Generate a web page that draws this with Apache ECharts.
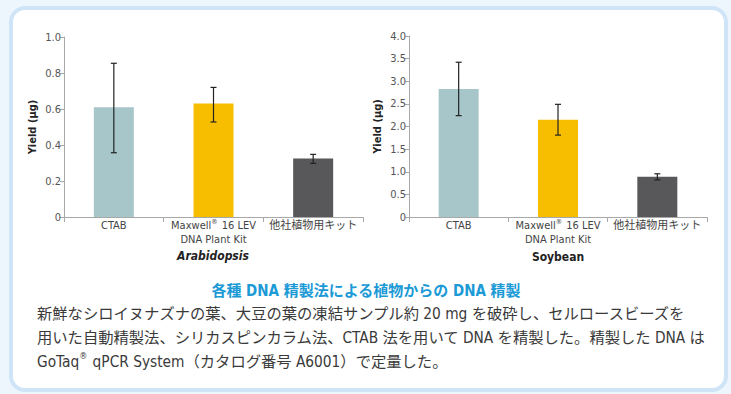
<!DOCTYPE html>
<html>
<head>
<meta charset="utf-8">
<script src="https://cdn.jsdelivr.net/npm/echarts@6/dist/echarts.min.js"></script>
<style>
  html, body { margin: 0; padding: 0; background: #eef6fd; }
  #chart { width: 731px; height: 394px; }
</style>
</head>
<body>
<div id="chart"></div>
<script>
// Categories shared by both panels
const categories = ['CTAB', 'Maxwell® 16 LEV\nDNA Plant Kit', '他社植物用キット'];
const barColors = ['#a6c6ca', '#f7be00', '#58585a'];

// Arabidopsis yield (µg) with error bar bounds
const arabValues = [0.61, 0.63, 0.325];
const arabErrLow = [0.357, 0.528, 0.298];
const arabErrHigh = [0.854, 0.72, 0.348];

// Soybean yield (µg) with error bar bounds
const soyValues = [2.83, 2.15, 0.89];
const soyErrLow = [2.24, 1.81, 0.82];
const soyErrHigh = [3.42, 2.49, 0.955];

const headline = '各種 DNA 精製法による植物からの DNA 精製';
const bodyLines = [
  '新鮮なシロイヌナズナの葉、大豆の葉の凍結サンプル約 20 mg を破砕し、セルロースビーズを',
  '用いた自動精製法、シリカスピンカラム法、CTAB 法を用いて DNA を精製した。精製した DNA は',
  'GoTaq® qPCR System（カタログ番号 A6001）で定量した。'
];

const narrow = '"Liberation Sans Narrow", "DejaVu Sans Condensed", "Noto Sans CJK JP", sans-serif';

// Wrap each line in rich-text tokens, turning ® into a small raised mark
function toRich(text, base) {
  return text.split('\n').map(line =>
    line.split('®').map(part => part ? '{' + base + '|' + part + '}' : '').join('{sup|®}')
  ).join('\n');
}

function xAxisCfg(idx) {
  return {
    type: 'category', gridIndex: idx, data: categories,
    axisLine: { lineStyle: { color: '#a8a8a8', width: 1 } },
    axisTick: { show: true, length: 5, lineStyle: { color: '#a8a8a8' } },
    axisLabel: {
      interval: 0, color: '#444', fontSize: 11, fontFamily: narrow, lineHeight: 14, margin: 1,
      formatter: v => toRich(v, 'n'),
      rich: {
        n: { color: '#444', fontSize: 11, fontFamily: narrow, lineHeight: 14 },
        sup: { color: '#444', fontSize: 7, fontFamily: narrow, lineHeight: 14, verticalAlign: 'top', padding: [0, 1, 4, 0] }
      }
    }
  };
}
function yAxisCfg(idx, max, interval) {
  return {
    type: 'value', gridIndex: idx, min: 0, max: max, interval: interval,
    name: 'Yield (µg)', nameLocation: 'middle', nameGap: 26,
    nameTextStyle: { color: '#222', fontWeight: 'bold', fontSize: 11, fontFamily: narrow },
    axisLine: { show: true, lineStyle: { color: '#a8a8a8' } },
    axisTick: { show: true, length: 4, lineStyle: { color: '#a8a8a8' } },
    splitLine: { show: false },
    axisLabel: {
      color: '#555', fontSize: 11, fontFamily: narrow, margin: 3,
      formatter: v => v === 0 ? '0' : v.toFixed(1)
    }
  };
}
function barSeries(idx, values) {
  return {
    type: 'bar', xAxisIndex: idx, yAxisIndex: idx, barWidth: 40,
    data: values.map((v, i) => ({ value: v, itemStyle: { color: barColors[i] } }))
  };
}
function errSeries(idx, lows, highs) {
  return {
    type: 'custom', xAxisIndex: idx, yAxisIndex: idx, z: 10,
    data: lows.map((lo, i) => [i, lo, highs[i]]),
    renderItem: function (params, api) {
      const lo = api.coord([api.value(0), api.value(1)]);
      const hi = api.coord([api.value(0), api.value(2)]);
      const cap = 3;
      const style = { stroke: '#222', lineWidth: 1.2 };
      return {
        type: 'group',
        children: [
          { type: 'line', shape: { x1: lo[0], y1: lo[1], x2: hi[0], y2: hi[1] }, style: style },
          { type: 'line', shape: { x1: hi[0] - cap, y1: hi[1], x2: hi[0] + cap, y2: hi[1] }, style: style },
          { type: 'line', shape: { x1: lo[0] - cap, y1: lo[1], x2: lo[0] + cap, y2: lo[1] }, style: style }
        ]
      };
    }
  };
}

const bodyRich = {
  b: { fontFamily: narrow, fontSize: 15.3, fill: '#3a3a3a', lineHeight: 22 },
  sup: { fontFamily: narrow, fontSize: 9, fill: '#3a3a3a', lineHeight: 22, verticalAlign: 'top', padding: [0, 1, 6, 0] }
};

const chart = echarts.init(document.getElementById('chart'), null, { renderer: 'svg' });
chart.setOption({
  backgroundColor: '#eef6fd',
  animation: false,
  grid: [
    { left: 64, top: 37, width: 299, height: 180 },
    { left: 409, top: 36, width: 298, height: 181 }
  ],
  xAxis: [xAxisCfg(0), xAxisCfg(1)],
  yAxis: [yAxisCfg(0, 1.0, 0.2), yAxisCfg(1, 4.0, 0.5)],
  series: [
    barSeries(0, arabValues), errSeries(0, arabErrLow, arabErrHigh),
    barSeries(1, soyValues), errSeries(1, soyErrLow, soyErrHigh)
  ],
  graphic: [
    {
      type: 'rect', z: -10, silent: true,
      shape: { x: 11, y: 8, width: 715, height: 382, r: 14 },
      style: { fill: '#ffffff', stroke: '#cfe4f7', lineWidth: 4 }
    },
    {
      type: 'text', x: 213, y: 256,
      style: { text: 'Arabidopsis', fontFamily: narrow, fontSize: 12, fontWeight: 'bold', fontStyle: 'italic',
               fill: '#222', align: 'center', verticalAlign: 'middle' }
    },
    {
      type: 'text', x: 558, y: 257,
      style: { text: 'Soybean', fontFamily: narrow, fontSize: 12, fontWeight: 'bold',
               fill: '#222', align: 'center', verticalAlign: 'middle' }
    },
    {
      type: 'text', x: 366, y: 291,
      style: { text: headline, fontFamily: narrow, fontSize: 15, fontWeight: 'bold',
               fill: '#1b9ad6', align: 'center', verticalAlign: 'middle' }
    }
  ].concat(bodyLines.map((t, i) => ({
    type: 'text', x: 37, y: 314 + i * 24,
    style: { text: toRich(t, 'b'), rich: bodyRich, fontFamily: narrow, fontSize: 15.3, fill: '#3a3a3a',
             align: 'left', verticalAlign: 'middle' }
  })))
});
</script>
</body>
</html>
